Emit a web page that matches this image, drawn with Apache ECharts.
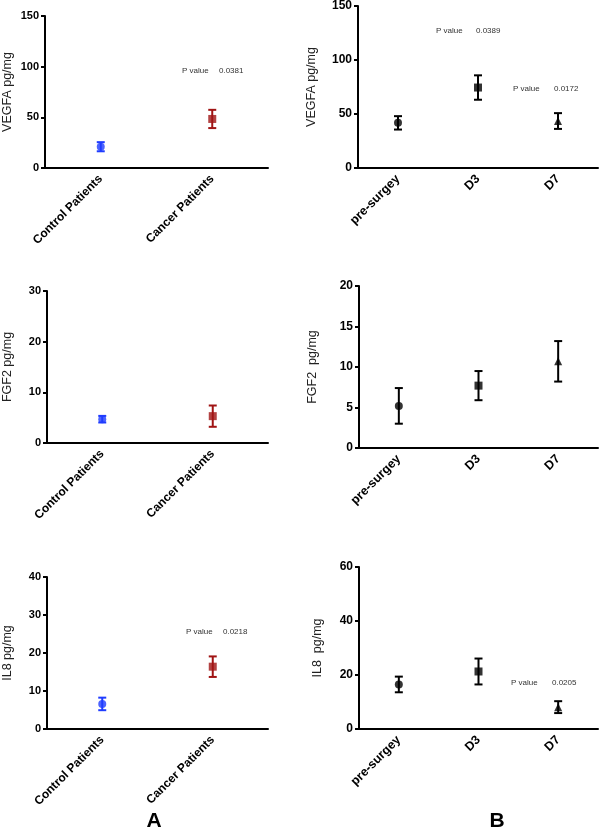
<!DOCTYPE html>
<html><head><meta charset="utf-8">
<script src="https://cdn.jsdelivr.net/npm/echarts@6/dist/echarts.min.js"></script>
<style>html,body{margin:0;padding:0;background:#fff}#c{width:600px;height:833px}</style>
</head><body><div id="c"></div>
<script>
// ---- data ----
const groupsA = ['Control Patients', 'Cancer Patients'];
const daysB = ['pre-surgey', 'D3', 'D7'];

const vegfaA_mean = [21.0, 48.4];
const vegfaA_err  = [4.5, 9.0];
const fgf2A_mean  = [4.7, 5.3];
const fgf2A_err   = [0.65, 2.1];
const il8A_mean   = [6.6, 16.4];
const il8A_err    = [1.65, 2.7];

const vegfaB_mean = [41.8, 74.5, 43.5];
const vegfaB_err  = [6.2, 11.3, 7.3];
const fgf2B_mean  = [5.2, 7.7, 10.7];
const fgf2B_err   = [2.2, 1.8, 2.5];
const il8B_mean   = [16.5, 21.3, 8.1];
const il8B_err    = [2.9, 4.8, 2.2];

const yTicksVegfa = [0, 50, 100, 150];
const yTicksFgf2A = [0, 10, 20, 30];
const yTicksIl8A  = [0, 10, 20, 30, 40];
const yTicksFgf2B = [0, 5, 10, 15, 20];
const yTicksIl8B  = [0, 20, 40, 60];

const pvalues = ['0.0381', '0.0389', '0.0172', '0.0218', '0.0205'];

// ---- build ----
const colorsA = ['#1f3cff', '#a01414'];
const colorsB = ['#000', '#000', '#000'];
const symbolsA = ['circle', 'rect'];
const symbolsB = ['circle', 'rect', 'triangle'];

const panels = [
  {cats: groupsA, mean: vegfaA_mean, err: vegfaA_err, ticks: yTicksVegfa, name: 'VEGFA pg/mg', grid: {left: 44, top: 16, width: 224, height: 152}, colors: colorsA, symbols: symbolsA, nameGap: 31, tf: 11, xf: 12},
  {cats: groupsA, mean: fgf2A_mean, err: fgf2A_err, ticks: yTicksFgf2A, name: 'FGF2 pg/mg', grid: {left: 45, top: 291, width: 223, height: 152}, colors: colorsA, symbols: symbolsA, nameGap: 33, tf: 11, xf: 12},
  {cats: groupsA, mean: il8A_mean, err: il8A_err, ticks: yTicksIl8A, name: 'IL8 pg/mg', grid: {left: 46, top: 577, width: 222, height: 152}, colors: colorsA, symbols: symbolsA, nameGap: 33, tf: 11, xf: 12},
  {cats: daysB, mean: vegfaB_mean, err: vegfaB_err, ticks: yTicksVegfa, name: 'VEGFA pg/mg', grid: {left: 358, top: 6, width: 240, height: 162}, colors: colorsB, symbols: symbolsB, nameGap: 40, tf: 12, xf: 12.5},
  {cats: daysB, mean: fgf2B_mean, err: fgf2B_err, ticks: yTicksFgf2B, name: 'FGF2  pg/mg', grid: {left: 359, top: 286, width: 239, height: 162}, colors: colorsB, symbols: symbolsB, nameGap: 40, tf: 12, xf: 12.5},
  {cats: daysB, mean: il8B_mean, err: il8B_err, ticks: yTicksIl8B, name: 'IL8  pg/mg', grid: {left: 359, top: 567, width: 239, height: 162}, colors: colorsB, symbols: symbolsB, nameGap: 35, tf: 12, xf: 12.5}
];

const grids = [], xAxes = [], yAxes = [], series = [];
const FONT = 'Liberation Sans, Arial, sans-serif';

panels.forEach((p, i) => {
  grids.push(Object.assign({containLabel: false}, p.grid));
  xAxes.push({
    type: 'category', gridIndex: i, data: p.cats, boundaryGap: true,
    axisLine: {lineStyle: {color: '#000', width: 2}},
    axisTick: {alignWithLabel: true, length: 5, lineStyle: {color: '#000', width: 2}},
    axisLabel: {rotate: 45, margin: 9, color: '#000', fontWeight: 'bold', fontSize: p.xf, fontFamily: FONT}
  });
  const step = p.ticks[1] - p.ticks[0];
  yAxes.push({
    type: 'value', gridIndex: i, min: p.ticks[0], max: p.ticks[p.ticks.length - 1], interval: step,
    name: p.name, nameLocation: 'middle', nameGap: p.nameGap, nameRotate: 90,
    nameTextStyle: {color: '#222', fontSize: 12.5, fontFamily: FONT},
    axisLine: {show: true, lineStyle: {color: '#000', width: 2}},
    axisTick: {show: true, length: 4, lineStyle: {color: '#000', width: 2}},
    axisLabel: {margin: 6, color: '#000', fontWeight: 'bold', fontSize: p.tf, fontFamily: FONT},
    splitLine: {show: false}
  });
  const errData = p.mean.map((m, k) => ({value: [k, m - p.err[k], m + p.err[k]], itemStyle: {color: p.colors[k]}}));
  series.push({
    type: 'custom', xAxisIndex: i, yAxisIndex: i, data: errData, silent: true,
    renderItem: function (params, api) {
      const k = api.value(0);
      const lo = api.coord([k, api.value(1)]);
      const hi = api.coord([k, api.value(2)]);
      const w = 4;
      const col = api.visual('color');
      const st = {stroke: col, lineWidth: 2};
      return {type: 'group', children: [
        {type: 'line', shape: {x1: lo[0], y1: lo[1], x2: hi[0], y2: hi[1]}, style: st},
        {type: 'line', shape: {x1: lo[0] - w, y1: lo[1], x2: lo[0] + w, y2: lo[1]}, style: st},
        {type: 'line', shape: {x1: hi[0] - w, y1: hi[1], x2: hi[0] + w, y2: hi[1]}, style: st}
      ]};
    }
  });
  series.push({
    type: 'scatter', xAxisIndex: i, yAxisIndex: i, silent: true,
    data: p.mean.map((m, k) => ({value: [k, m], symbol: p.symbols[k], symbolSize: 8, itemStyle: {color: p.colors[k]}}))
  });
});

function ptext(x, y, s) {
  return {type: 'text', x: x, y: y, style: {text: s, fill: '#333', font: '8px ' + FONT, textVerticalAlign: 'middle'}};
}
const graphics = [
  ptext(182, 71, 'P value'), ptext(219, 71, pvalues[0]),
  ptext(436, 31, 'P value'), ptext(476, 31, pvalues[1]),
  ptext(513, 89, 'P value'), ptext(554, 89, pvalues[2]),
  ptext(186, 632, 'P value'), ptext(223, 632, pvalues[3]),
  ptext(511, 683, 'P value'), ptext(552, 683, pvalues[4]),
  {type: 'text', x: 154, y: 832, style: {text: 'A', fill: '#000', font: 'bold 21px ' + FONT, textAlign: 'center', textVerticalAlign: 'bottom'}},
  {type: 'text', x: 497, y: 832, style: {text: 'B', fill: '#000', font: 'bold 21px ' + FONT, textAlign: 'center', textVerticalAlign: 'bottom'}}
];

const chart = echarts.init(document.getElementById('c'), null, {renderer: 'canvas'});
chart.setOption({
  animation: false,
  backgroundColor: '#fff',
  grid: grids, xAxis: xAxes, yAxis: yAxes, series: series, graphic: graphics
});
</script>
</body></html>
